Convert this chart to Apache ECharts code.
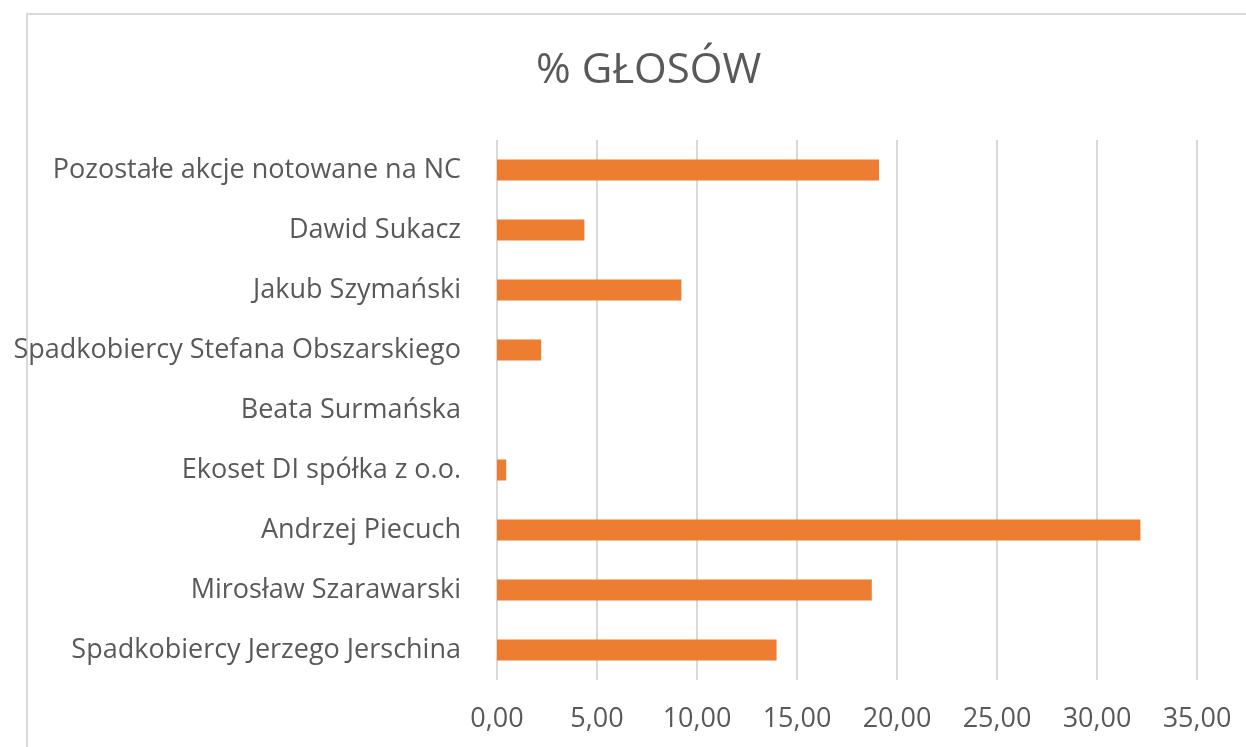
<!DOCTYPE html>
<html style="height: 100%">
<head>
    <meta charset="utf-8">
    <title>% GŁOSÓW</title>
    <script type="text/javascript" src="https://cdn.jsdelivr.net/npm/echarts@6/dist/echarts.min.js"></script>
</head>
<body style="width: 100%;margin: 0;height: 100%;background: #fff">

<div id="container" style="width: 1246px;height: 747px"></div>

<script type="application/javascript">

    // kategorie od dołu do góry
    var names = [
        'Spadkobiercy Jerzego Jerschina',
        'Mirosław Szarawarski',
        'Andrzej Piecuch',
        'Ekoset DI spółka z o.o.',
        'Beata Surmańska',
        'Spadkobiercy Stefana Obszarskiego',
        'Jakub Szymański',
        'Dawid Sukacz',
        'Pozostałe akcje notowane na NC'
    ];
    var glosy = [13.98, 18.74, 32.17, 0.46, 0, 2.21, 9.22, 4.37, 19.10];

    var font = '"Open Sans", sans-serif';
    var grey = '#595959';

    var dom = document.getElementById("container");
    var myChart = echarts.init(dom);

    var option = {
        animation: false,
        title: {
            text: '% GŁOSÓW',
            left: 531,
            top: 45,
            textStyle: {
                fontFamily: font,
                fontSize: 42,
                fontWeight: 'normal',
                color: grey
            }
        },
        graphic: [
            {
                type: 'polyline',
                shape: {points: [[27, 747], [27, 14], [1246, 14]]},
                style: {stroke: '#d9d9d9', lineWidth: 2, fill: null}
            }
        ],
        grid: {
            left: 497,
            right: 49,
            top: 140,
            bottom: 67
        },
        xAxis: {
            type: 'value',
            min: 0,
            max: 35,
            interval: 5,
            axisLine: {show: false},
            axisTick: {show: false},
            splitLine: {lineStyle: {color: '#d9d9d9', width: 2}},
            axisLabel: {
                margin: 26,
                fontFamily: font,
                fontSize: 27,
                color: grey,
                formatter: function (v) {
                    return v.toFixed(2).replace('.', ',');
                }
            }
        },
        yAxis: {
            type: 'category',
            data: names,
            axisLine: {show: false},
            axisTick: {show: false},
            axisLabel: {
                margin: 36,
                fontFamily: font,
                fontSize: 27,
                color: grey
            }
        },
        series: [
            {
                type: 'bar',
                data: glosy,
                barWidth: '35%',
                itemStyle: {color: '#ed7d31'}
            }
        ]
    };

    myChart.setOption(option);
</script>

</body>
</html>
